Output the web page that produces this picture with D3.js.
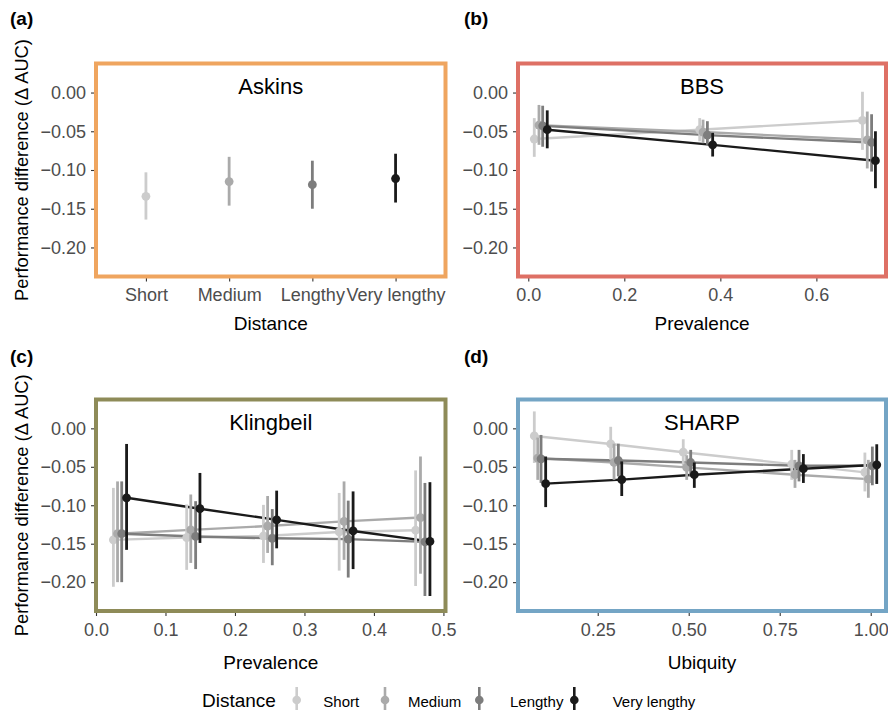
<!DOCTYPE html>
<html>
<head>
<meta charset="utf-8">
<script src="https://cdn.jsdelivr.net/npm/d3@7"></script>
<style>
  body { margin: 0; background: #fff; }
  svg { font-family: "Liberation Sans", Arial, sans-serif; }
  .tick text { fill: #4d4d4d; font-size: 18px; }
  .tick line { stroke: #333; stroke-width: 1.1; }
</style>
</head>
<body>
<svg id="chart" width="888" height="710"></svg>
<script>
// distance classes and their grey shades
const distances = ["Short", "Medium", "Lengthy", "Very lengthy"];
const greys = ["#cccccc", "#aaaaaa", "#7d7d7d", "#1a1a1a"];
const yTicks = [0, -0.05, -0.10, -0.15, -0.20];
const yDomain = [-0.2375, 0.0375];

// (a) Askins: one estimate per distance
const askinsEst = [-0.134, -0.115, -0.119, -0.111];
const askinsLo  = [-0.164, -0.146, -0.150, -0.142];
const askinsHi  = [-0.103, -0.083, -0.088, -0.079];

// (b) BBS: rows = distance, columns = prevalence group
const bbsX   = [[0.0125, 0.357, 0.696], [0.0223, 0.364, 0.706], [0.030, 0.373, 0.715], [0.0395, 0.384, 0.723]];
const bbsEst = [[-0.060, -0.048, -0.036], [-0.042, -0.051, -0.061], [-0.043, -0.055, -0.0645], [-0.048, -0.0675, -0.088]];
const bbsLo  = [[-0.083, -0.063, -0.074], [-0.0675, -0.0654, -0.098], [-0.070, -0.0675, -0.102], [-0.072, -0.0826, -0.1235]];
const bbsHi  = [[-0.033, -0.033, 0.001], [-0.016, -0.035, -0.0245], [-0.017, -0.037, -0.028], [-0.023, -0.052, -0.050]];
const bbsTicks = [0, 0.2, 0.4, 0.6];

// (c) Klingbeil
const klX   = [[0.025, 0.1305, 0.241, 0.350, 0.460], [0.031, 0.1364, 0.247, 0.357, 0.467],
               [0.037, 0.1434, 0.2537, 0.363, 0.4734], [0.044, 0.1496, 0.260, 0.370, 0.4806]];
const klEst = [[-0.145, -0.142, -0.140, -0.1347, -0.1325], [-0.137, -0.132, -0.127, -0.121, -0.116],
               [-0.137, -0.1406, -0.143, -0.144, -0.1476], [-0.0903, -0.1045, -0.119, -0.1334, -0.147]];
const klLo  = [[-0.206, -0.184, -0.175, -0.185, -0.205], [-0.200, -0.175, -0.162, -0.171, -0.189],
               [-0.200, -0.183, -0.178, -0.194, -0.218], [-0.158, -0.149, -0.156, -0.183, -0.218]];
const klHi  = [[-0.0774, -0.099, -0.0995, -0.084, -0.0547], [-0.069, -0.086, -0.088, -0.069, -0.0366],
               [-0.069, -0.0947, -0.105, -0.094, -0.071], [-0.0203, -0.058, -0.081, -0.082, -0.070]];
const klTicks = [0, 0.1, 0.2, 0.3, 0.4, 0.5];

// (d) SHARP
const shX   = [[0.0758, 0.2857, 0.485, 0.783, 0.984], [0.0852, 0.2948, 0.4945, 0.792, 0.9935],
               [0.0943, 0.3067, 0.5055, 0.803, 1.0045], [0.107, 0.316, 0.5154, 0.815, 1.0166]];
const shEst = [[-0.0099, -0.0203, -0.031, -0.0465, -0.0573], [-0.0387, -0.0444, -0.0508, -0.0603, -0.066],
               [-0.0396, -0.0418, -0.0444, -0.0487, -0.0487], [-0.0719, -0.0667, -0.0603, -0.0525, -0.0474]];
const shLo  = [[-0.045, -0.041, -0.0487, -0.067, -0.082], [-0.067, -0.067, -0.067, -0.0774, -0.0903],
               [-0.071, -0.0624, -0.0624, -0.069, -0.074], [-0.1024, -0.088, -0.0774, -0.071, -0.0723]];
const shHi  = [[0.022, 0.002, -0.0142, -0.028, -0.0315], [-0.012, -0.020, -0.035, -0.041, -0.041],
               [-0.0086, -0.020, -0.028, -0.028, -0.0237], [-0.0366, -0.043, -0.0444, -0.0335, -0.0207]];
const shTicks = [0.25, 0.50, 0.75, 1.00];

const svg = d3.select("#chart");
const colL = [96, 445.5], colR = [518, 886];
const rowT = [63.5, 276.5], rowB = [399.5, 611];

function panelTitle(g, xr, yr, title) {
  g.append("text")
    .attr("x", (xr[0] + xr[1]) / 2).attr("y", yr[0] + 30)
    .attr("text-anchor", "middle").attr("font-size", 22).attr("fill", "#000")
    .text(title);
}

function yAxis(g, xr, y) {
  g.append("g")
    .attr("transform", `translate(${xr[0]},0)`)
    .call(d3.axisLeft(y).tickValues(yTicks).tickFormat(d3.format(".2f")).tickSize(5).tickPadding(5))
    .call(a => a.select(".domain").remove());
}

function border(g, xr, yr, colour) {
  g.append("rect")
    .attr("x", xr[0]).attr("y", yr[0])
    .attr("width", xr[1] - xr[0]).attr("height", yr[1] - yr[0])
    .attr("fill", "none").attr("stroke", colour).attr("stroke-width", 4);
}

function pointRange(g, x, y, lo, hi, est, colour) {
  g.append("line")
    .attr("x1", x).attr("x2", x).attr("y1", y(lo)).attr("y2", y(hi))
    .attr("stroke", colour).attr("stroke-width", 2.8);
  g.append("circle").attr("cx", x).attr("cy", y(est)).attr("r", 4.4).attr("fill", colour);
}

function linePanel(xr, yr, domain, ticks, fmt, xs, est, lo, hi, colour, title, xTitle, titleOffset) {
  const g = svg.append("g");
  const x = d3.scaleLinear().domain(domain).range(xr);
  const y = d3.scaleLinear().domain(yDomain).range([yr[1], yr[0]]);
  yAxis(g, xr, y);
  g.append("g")
    .attr("transform", `translate(0,${yr[1]})`)
    .call(d3.axisBottom(x).tickValues(ticks).tickFormat(d3.format(fmt)).tickSize(5).tickPadding(7))
    .call(a => a.select(".domain").remove());
  const line = d3.line().x(d => x(d[0])).y(d => y(d[1]));
  distances.forEach((d, i) => {
    g.append("path")
      .attr("d", line(xs[i].map((v, j) => [v, est[i][j]])))
      .attr("fill", "none").attr("stroke", greys[i]).attr("stroke-width", 2.4);
  });
  distances.forEach((d, i) => {
    xs[i].forEach((v, j) => pointRange(g, x(v), y, lo[i][j], hi[i][j], est[i][j], greys[i]));
  });
  border(g, xr, yr, colour);
  panelTitle(g, xr, yr, title);
  g.append("text")
    .attr("x", (xr[0] + xr[1]) / 2).attr("y", yr[1] + titleOffset)
    .attr("text-anchor", "middle").attr("font-size", 19).text(xTitle);
}

// (a) Askins
{
  const g = svg.append("g");
  const x = d3.scalePoint().domain(distances).range(colL).padding(0.6);
  const y = d3.scaleLinear().domain(yDomain).range([rowT[1], rowT[0]]);
  yAxis(g, colL, y);
  g.append("g")
    .attr("transform", `translate(0,${rowT[1]})`)
    .call(d3.axisBottom(x).tickSize(5).tickPadding(7))
    .call(a => a.select(".domain").remove());
  distances.forEach((d, i) => pointRange(g, x(d), y, askinsLo[i], askinsHi[i], askinsEst[i], greys[i]));
  border(g, colL, rowT, "#efa55f");
  panelTitle(g, colL, rowT, "Askins");
  g.append("text")
    .attr("x", (colL[0] + colL[1]) / 2).attr("y", rowT[1] + 53)
    .attr("text-anchor", "middle").attr("font-size", 19).text("Distance");
}

linePanel(colR, rowT, [-0.0214, 0.745], bbsTicks, ".1f", bbsX, bbsEst, bbsLo, bbsHi, "#de7065", "BBS", "Prevalence", 53);
linePanel(colL, rowB, [0, 0.503], klTicks, ".1f", klX, klEst, klLo, klHi, "#8e8b58", "Klingbeil", "Prevalence", 58);
linePanel(colR, rowB, [0.031, 1.042], shTicks, ".2f", shX, shEst, shLo, shHi, "#74a5c5", "SHARP", "Ubiquity", 58);

// panel tags
[["(a)", 10, 25], ["(b)", 464, 25], ["(c)", 10, 363], ["(d)", 464, 363]].forEach(t => {
  svg.append("text").attr("x", t[1]).attr("y", t[2])
    .attr("font-size", 19).attr("font-weight", "bold").text(t[0]);
});

// y titles, centred on each row
[(rowT[0] + rowT[1]) / 2, (rowB[0] + rowB[1]) / 2].forEach(cy => {
  svg.append("text")
    .attr("transform", `translate(28,${cy}) rotate(-90)`)
    .attr("text-anchor", "middle").attr("font-size", 18.3)
    .text("Performance difference (\u0394 AUC)");
});

// legend
const legend = svg.append("g");
legend.append("text").attr("x", 202).attr("y", 707).attr("font-size", 19).text("Distance");
const keyX = [296.7, 385, 479.3, 574.3];
const labX = [323.3, 408, 510, 612.7];
distances.forEach((d, i) => {
  legend.append("line").attr("x1", keyX[i]).attr("x2", keyX[i]).attr("y1", 687).attr("y2", 713)
    .attr("stroke", greys[i]).attr("stroke-width", 2.6);
  legend.append("circle").attr("cx", keyX[i]).attr("cy", 700).attr("r", 4.3).attr("fill", greys[i]);
  legend.append("text").attr("x", labX[i]).attr("y", 706.5).attr("font-size", 15).text(d);
});
</script>
</body>
</html>
